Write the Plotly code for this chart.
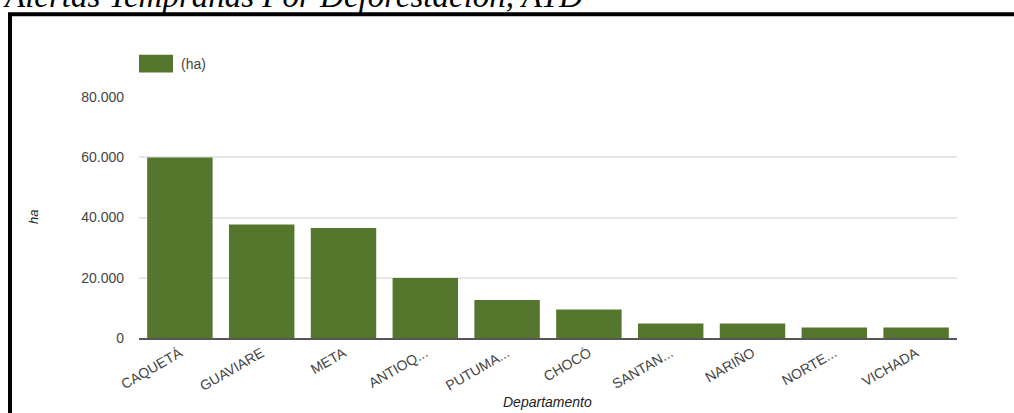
import plotly.graph_objects as go

# Data
departamentos = ["CAQUETÁ", "GUAVIARE", "META", "ANTIOQ...", "PUTUMA...",
                 "CHOCÓ", "SANTAN...", "NARIÑO", "NORTE...", "VICHADA"]
hectareas = [59900, 37700, 36500, 19900, 12600, 9500, 4800, 4800, 3450, 3450]
y_tickvals = [0, 20000, 40000, 60000, 80000]
y_ticktext = ["0", "20.000", "40.000", "60.000", "80.000"]

W, H = 1014, 413
ML, MR, MT, MB = 139, 57, 96.5, 74.5
PW = W - ML - MR
PH = H - MT - MB


def px_x(px):
    return (px - ML) / PW


def px_y(py):
    return (H - MB - py) / PH


GREEN = "#54772d"
TEXT = "#444444"
FONT = "Liberation Sans, Arial, sans-serif"

fig = go.Figure()
fig.add_trace(go.Bar(
    x=departamentos, y=hectareas, name="(ha)",
    marker=dict(color=GREEN, line=dict(width=0)),
    showlegend=False,
))

fig.update_layout(
    width=W, height=H,
    margin=dict(l=ML, r=MR, t=MT, b=MB, pad=0),
    paper_bgcolor="white", plot_bgcolor="white",
    bargap=0.2,
    font=dict(family=FONT, size=14, color=TEXT),
    xaxis=dict(
        showgrid=False, zeroline=False,
        showline=True, linecolor="#555555", linewidth=1.5,
        tickangle=-30, tickfont=dict(size=14, color=TEXT),
        ticks="", automargin=False,
    ),
    yaxis=dict(
        range=[0, 80000], tickvals=y_tickvals, ticktext=y_ticktext,
        showgrid=True, gridcolor="#e6e6e6", gridwidth=2,
        zeroline=False, showline=False, ticks="",
        ticklabelstandoff=14, tickfont=dict(size=14, color=TEXT),
        automargin=False,
    ),
    shapes=[
        # outer black frame
        dict(type="rect", xref="paper", yref="paper",
             x0=px_x(10), x1=px_x(1030), y0=px_y(430), y1=px_y(13.5),
             line=dict(color="black", width=4), fillcolor="rgba(0,0,0,0)",
             layer="below"),
        # legend swatch
        dict(type="rect", xref="paper", yref="paper",
             x0=px_x(139), x1=px_x(173), y0=px_y(72), y1=px_y(54),
             line=dict(width=0), fillcolor=GREEN),
    ],
    annotations=[
        dict(text="<i>Alertas Tempranas Por Deforestación, ATD</i>",
             xref="paper", yref="paper", x=px_x(1), y=px_y(15),
             xanchor="left", yanchor="bottom", showarrow=False,
             font=dict(family="Liberation Serif, Times New Roman, serif",
                       size=33, color="black")),
        dict(text="(ha)", xref="paper", yref="paper", x=px_x(179), y=px_y(63),
             xanchor="left", yanchor="middle", showarrow=False,
             font=dict(size=14, color=TEXT)),
        dict(text="<i>ha</i>", xref="paper", yref="paper", x=px_x(33), y=px_y(217),
             xanchor="center", yanchor="middle", showarrow=False, textangle=-90,
             font=dict(size=13, color="#222222")),
        dict(text="<i>Departamento</i>", xref="paper", yref="paper",
             x=px_x(547), y=px_y(403), xanchor="center", yanchor="middle",
             showarrow=False, font=dict(size=14, color="#222222")),
    ],
)

fig.write_html(
    "out.html",
    config={"displayModeBar": False},
    post_script="document.body.style.margin='0';document.body.style.overflow='hidden';",
)
